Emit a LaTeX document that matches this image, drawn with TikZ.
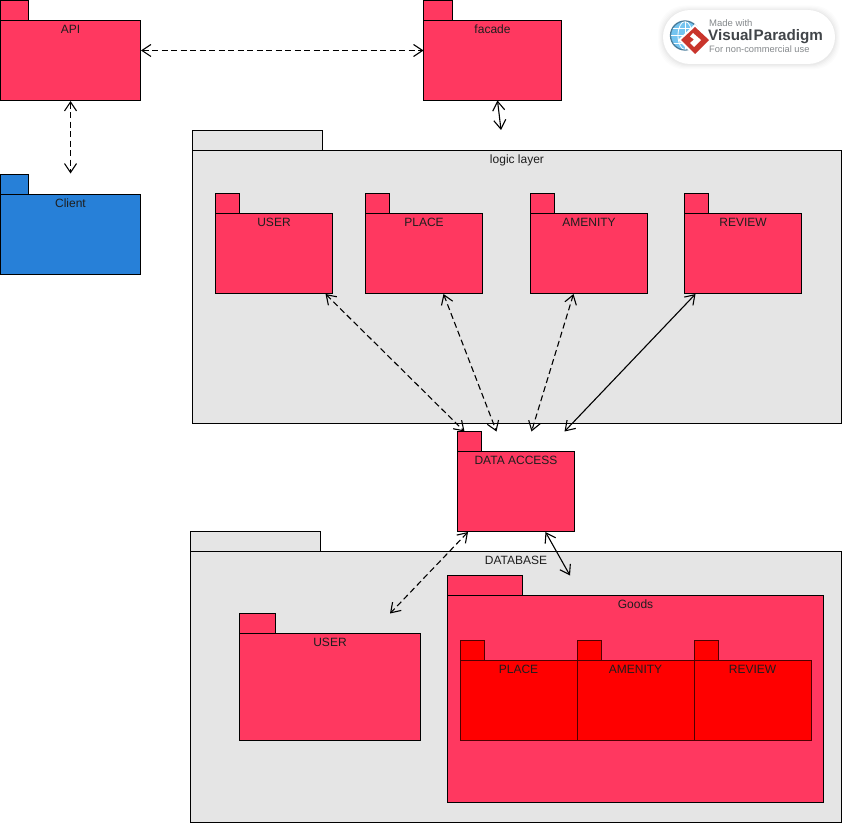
\documentclass[tikz,border=0pt]{standalone}
\usepackage{fontspec}
\setmainfont{Liberation Sans}
\usetikzlibrary{arrows.meta,calc}
\definecolor{pkgred}{HTML}{FF3860}
\definecolor{pkgblue}{HTML}{2780D8}
\definecolor{pkggrey}{HTML}{E5E5E5}
\definecolor{pkgpure}{HTML}{FF0000}
\definecolor{innerline}{HTML}{500000}
\definecolor{txt}{HTML}{1E1E1E}
\definecolor{logodark}{HTML}{414549}
\definecolor{logogrey}{HTML}{85898C}
\definecolor{logosky}{HTML}{74C4F0}
\definecolor{logoring}{HTML}{4A7C9A}
\definecolor{logored}{HTML}{C9352C}
\tikzset{
 pkgshape/.style={draw=black,line width=0.9pt,inner sep=0pt,outer sep=0pt},
 redpk/.style={pkgshape,fill=pkgred},
 bluepk/.style={pkgshape,fill=pkgblue},
 greypk/.style={pkgshape,fill=pkggrey},
 purepk/.style={pkgshape,fill=pkgpure,draw=innerline},
 lbl/.style={inner sep=0pt,text=txt,font=\fontsize{12}{14}\selectfont,anchor=base},
 link/.style={line width=1.1pt,black,{Straight Barb[length=9pt,width=12pt,line width=1.1pt]}-{Straight Barb[length=9pt,width=12pt,line width=1.1pt]}},
 dlink/.style={link,dash pattern=on 6pt off 3.5pt},
 logotext/.style={inner sep=0pt,anchor=base west},
}
% name, x, top y of tab, body width, body height, tab width, tab height, style, label
\newcommand{\pkg}[9]{%
 \node[#8,anchor=north west,minimum width=#4pt,minimum height=#5pt] (#1) at (#2,#3+#7) {};
 \node[#8,anchor=south west,minimum width=#6pt,minimum height=#7pt] (#1tab) at (#1.north west) {};
 \node[lbl] (#1label) at ($(#1.north)+(0,13)$) {#9};
}
\begin{document}
\begin{tikzpicture}[x=1pt,y=-1pt]
\useasboundingbox (0,0) rectangle (843,824);
\fill[white] (0,0) rectangle (843,824);
% top packages
\pkg{api}{0.5}{0.5}{140}{80}{28}{20}{redpk}{API}
\pkg{facade}{423.5}{0.5}{138}{80}{29}{20}{redpk}{facade}
\pkg{client}{0.5}{174.5}{140}{80}{28}{20}{bluepk}{Client}
% logic layer
\pkg{logic}{192.5}{130.5}{649}{273}{130}{20}{greypk}{logic layer}
\pkg{luser}{215.5}{193.5}{117}{80}{24}{20}{redpk}{USER}
\pkg{lplace}{365.5}{193.5}{117}{80}{24}{20}{redpk}{PLACE}
\pkg{lamenity}{530.5}{193.5}{117}{80}{24}{20}{redpk}{AMENITY}
\pkg{lreview}{684.5}{193.5}{117}{80}{24}{20}{redpk}{REVIEW}
% database
\pkg{db}{190.5}{531.5}{651}{271}{130}{20}{greypk}{DATABASE}
\pkg{data}{457.5}{431.5}{117}{80}{24}{20}{redpk}{DATA ACCESS}
\pkg{duser}{239.5}{613.5}{181}{107}{36}{20}{redpk}{USER}
\pkg{goods}{447.5}{575.5}{376}{207}{75}{20}{redpk}{Goods}
\pkg{dplace}{460}{640}{117}{80}{24}{20}{purepk}{PLACE}
\pkg{damenity}{577}{640}{117}{80}{24}{20}{purepk}{AMENITY}
\pkg{dreview}{694}{640}{117}{80}{24}{20}{purepk}{REVIEW}
% free ends
\coordinate (facadeend) at (501,130);
\coordinate (dbuserend) at (390,613.5);
\coordinate (dbgoodsend) at (570,575.5);
% connectors
\draw[dlink] ($(api.east)+(0.5,-10)$) -- ($(facade.west)+(0,-10)$);
\draw[dlink] ($(api.south)+(0,0.5)$) -- ($(clienttab.north west)+(70,-1)$);
\draw[link] ($(facade.south)+(5,0)$) -- (facadeend);
\draw[dlink] ($(luser.south east)+(-7,0.5)$) -- ($(datatab.north west)+(7,0)$);
\draw[dlink] ($(lplace.south west)+(78,0.5)$) -- ($(datatab.north west)+(39,0)$);
\draw[dlink] ($(lamenity.south west)+(43,0.5)$) -- ($(datatab.north west)+(74,0)$);
\draw[link] ($(lreview.south west)+(11,0.5)$) -- ($(datatab.north west)+(107,0)$);
\draw[dlink] ($(data.south west)+(10.5,0.5)$) -- (dbuserend);
\draw[link] ($(data.south west)+(88,0.5)$) -- (dbgoodsend);
% Visual Paradigm badge
\foreach \g/\o in {5/0.012,4/0.012,3/0.015,2/0.02,1/0.025}
 \fill[black,opacity=\o,rounded corners=27pt] (663-\g,10-\g+0.5) rectangle (835+\g,64+\g+0.5);
\fill[white,rounded corners=27pt] (663,10) rectangle (835,64);
\fill[logosky] (685,35.5) circle (14.5pt);
\draw[logoring,line width=1.3pt] (685,35.5) circle (14.5pt);
\begin{scope}
 \clip (685,35.5) circle (14pt);
 \draw[white,line width=0.8pt] (685,21) -- (685,50) (671,35.5) -- (699,35.5) (672,28) -- (698,28) (672,43) -- (698,43);
 \draw[white,line width=0.8pt] (685,35.5) ellipse (7pt and 14pt);
\end{scope}
\fill[white] (695,24) -- (712,40) -- (695,57) -- (678,40) -- cycle;
\fill[logored] (695,27) -- (709,40) -- (695,54) -- (681,40) -- cycle;
\fill[white] (693,33) -- (701,40) -- (694,47) -- (690,43) -- (694,39.5) -- (690,36.5) -- cycle;
\node[logotext,text=logogrey,font=\fontsize{9.5}{11}\selectfont] (vpmade) at (709,26.5) {Made with};
\node[logotext,text=logodark,font=\fontsize{15.2}{17}\selectfont\bfseries] (vpname) at (708,41) {Visual\kern1pt Paradigm};
\node[logotext,text=logogrey,font=\fontsize{9.3}{11}\selectfont] (vpuse) at (709,52.5) {For non-commercial use};
\end{tikzpicture}
\end{document}
